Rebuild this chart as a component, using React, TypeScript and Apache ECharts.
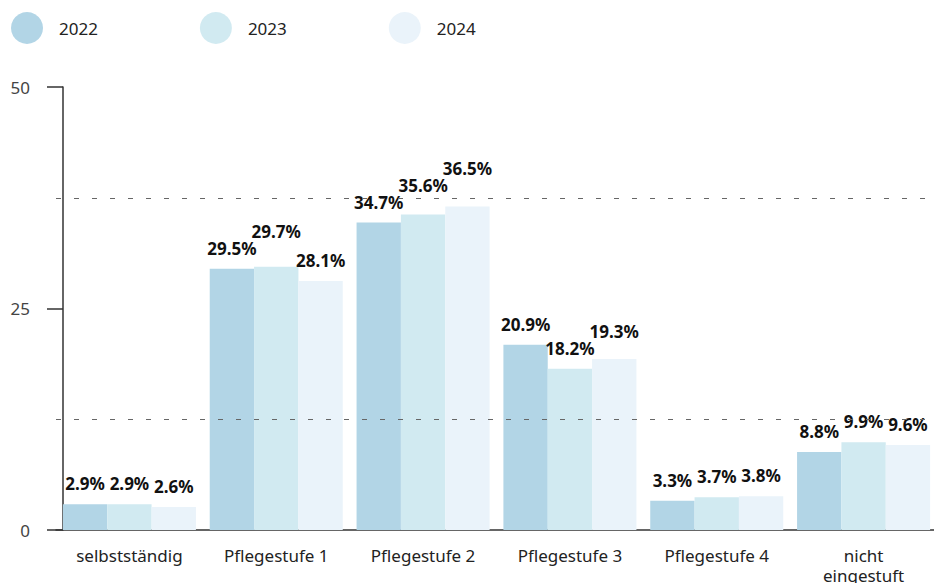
import React, { useEffect, useRef } from "react";
import * as echarts from "echarts";

const categories = ["selbstständig", "Pflegestufe 1", "Pflegestufe 2", "Pflegestufe 3", "Pflegestufe 4", "nicht\neingestuft"];
const seriesNames = ["2022", "2023", "2024"];
const values2022 = [2.9, 29.5, 34.7, 20.9, 3.3, 8.8];
const values2023 = [2.9, 29.7, 35.6, 18.2, 3.7, 9.9];
const values2024 = [2.6, 28.1, 36.5, 19.3, 3.8, 9.6];
const refLines = [12.5, 37.5];
const colors = ["#b2d5e6", "#d1eaf1", "#eaf3fa"];
const FONT = "Noto Sans";

export default function App() {
  const ref = useRef<HTMLDivElement>(null);
  useEffect(() => {
    document.body.style.margin = "0";
    const chart = echarts.init(ref.current!, null, { renderer: "svg" });
    const all = [values2022, values2023, values2024];
    // placed label rects, used to lift a label above its left neighbour when they collide
    const placed: Record<string, { x: number; y: number; width: number; height: number }> = {};
    const labelLayout = (params: any) => {
      const r = params.labelRect;
      let dy = 0;
      const prev = placed[`${params.seriesIndex - 1}_${params.dataIndex}`];
      if (prev) {
        const xOverlap = r.x < prev.x + prev.width - 1 && r.x + r.width > prev.x + 1;
        const yOverlap = r.y < prev.y + prev.height && r.y + r.height > prev.y;
        if (xOverlap && yOverlap) dy = prev.y - r.height - r.y;
      }
      placed[`${params.seriesIndex}_${params.dataIndex}`] = { x: r.x, y: r.y + dy, width: r.width, height: r.height };
      return { dy };
    };
    chart.setOption({
      animation: false,
      textStyle: { fontFamily: FONT },
      legend: {
        left: 6,
        top: 7,
        icon: "circle",
        itemWidth: 32,
        itemHeight: 32,
        itemGap: 102,
        textStyle: { fontSize: 17, color: "#222", fontFamily: FONT, padding: [0, 0, 0, 11] },
        data: seriesNames,
      },
      grid: { left: 56, right: -3, top: 87, bottom: 53, outerBoundsMode: "none", containLabel: false },
      xAxis: {
        type: "category",
        data: categories,
        axisLine: { lineStyle: { color: "#333", width: 1.5 } },
        axisTick: { show: false },
        axisLabel: { color: "#222", fontSize: 17, fontFamily: FONT, margin: 15, lineHeight: 20, interval: 0 },
      },
      yAxis: {
        type: "value",
        min: 0,
        max: 50,
        interval: 25,
        offset: -7,
        axisLine: { show: true, lineStyle: { color: "#333", width: 1.5 } },
        axisTick: { show: true, length: 16, lineStyle: { color: "#333", width: 1.5 } },
        axisLabel: { color: "#444", fontSize: 17, fontFamily: FONT, margin: 33 },
        splitLine: { show: false },
      },
      series: seriesNames.map((name, i) => ({
        name,
        type: "bar",
        data: all[i],
        barGap: "0%",
        barCategoryGap: "9.4%",
        itemStyle: { color: colors[i] },
        labelLayout,
        label: {
          show: true,
          position: "top",
          distance: 12,
          formatter: (p: any) => `${p.value}%`,
          color: "#111",
          fontWeight: "bold",
          fontSize: 17,
          fontFamily: FONT,
        },
        markLine:
          i === 0
            ? {
                silent: true,
                symbol: "none",
                label: { show: false },
                lineStyle: { color: "#666", type: [5, 13], width: 1 },
                data: refLines.map((y) => ({ yAxis: y })),
              }
            : undefined,
      })),
    });
    return () => chart.dispose();
  }, []);
  return <div ref={ref} style={{ width: 934, height: 583 }} />;
}
